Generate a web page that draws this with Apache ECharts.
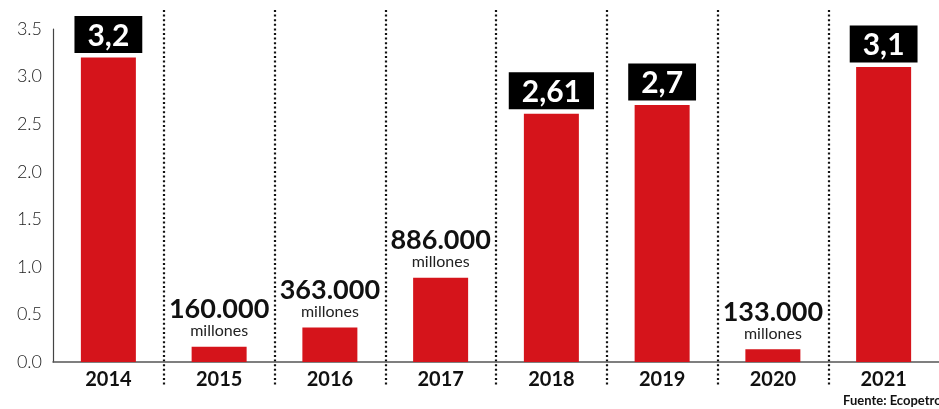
<!DOCTYPE html>
<html>
<head>
<meta charset="utf-8">
<script src="https://cdn.jsdelivr.net/npm/echarts@6/dist/echarts.min.js"></script>
<style>
html,body{margin:0;padding:0;background:#fff;}
#chart{width:939px;height:409px;}
</style>
</head>
<body>
<div id="chart"></div>
<script>
const years = ['2014','2015','2016','2017','2018','2019','2020','2021'];
const values = [3.2, 0.16, 0.363, 0.886, 2.61, 2.7, 0.133, 3.1];
const labelTexts = ['3,2','160.000','363.000','886.000','2,61','2,7','133.000','3,1'];
const labelUnits = ['', 'millones', 'millones', 'millones', '', '', 'millones', ''];
const yTicks = [0, 0.5, 1, 1.5, 2, 2.5, 3, 3.5];
const source = 'Fuente: Ecopetrol';

const chart = echarts.init(document.getElementById('chart'));
const option = {
  animation: false,
  backgroundColor: '#ffffff',
  grid: [
    {left: 53, right: -2, top: 29, bottom: 47},
    {left: 53, right: -2, top: 10, bottom: 23}
  ],
  xAxis: [
    {
      type: 'category', gridIndex: 0, data: years,
      axisLine: {show: true, lineStyle: {color: '#555', width: 1.5}},
      axisTick: {show: false},
      axisLabel: {color: '#111', fontSize: 20, fontWeight: 'bold', fontFamily: 'Lato', margin: 8}
    },
    {
      type: 'value', gridIndex: 1, min: 0, max: years.length, interval: 1,
      axisLine: {show: false}, axisTick: {show: false}, axisLabel: {show: false},
      splitLine: {show: true, showMinLine: false, showMaxLine: false,
        lineStyle: {color: '#111', width: 2.2, type: [2, 2.6]}}
    }
  ],
  yAxis: [
    {
      type: 'value', gridIndex: 0, min: yTicks[0], max: yTicks[yTicks.length - 1], interval: 0.5,
      axisLine: {show: true, lineStyle: {color: '#444', width: 1.2}},
      axisTick: {show: false},
      splitLine: {show: false},
      axisLabel: {color: '#222', fontSize: 18, fontWeight: 300, fontFamily: 'Lato', margin: 11,
        formatter: v => v.toFixed(1)}
    },
    {
      type: 'value', gridIndex: 1, min: 0, max: 1, show: false
    }
  ],
  series: [
    {
      type: 'bar', xAxisIndex: 0, yAxisIndex: 0,
      data: values, barWidth: 55,
      itemStyle: {color: '#d5141b'},
      label: {
        show: true, position: 'top', distance: 8,
        formatter: p => labelUnits[p.dataIndex]
          ? '{n|' + labelTexts[p.dataIndex] + '}\n{u|' + labelUnits[p.dataIndex] + '}'
          : '{b|' + labelTexts[p.dataIndex] + '}',
        rich: {
          b: {backgroundColor: '#000', color: '#fff', fontSize: 30, fontWeight: 'bold',
              fontFamily: 'Lato', padding: [5, 13, 2, 13], lineHeight: 30},
          n: {color: '#111', fontSize: 27, fontWeight: 'bold', fontFamily: 'Lato', lineHeight: 26},
          u: {color: '#222', fontSize: 16, fontFamily: 'Lato', lineHeight: 16}
        }
      }
    }
  ],
  graphic: [
    {type: 'text', left: 843, top: 394,
     style: {text: source, fill: '#111', font: 'bold 13px Lato'}}
  ]
};
chart.setOption(option);
</script>
</body>
</html>
